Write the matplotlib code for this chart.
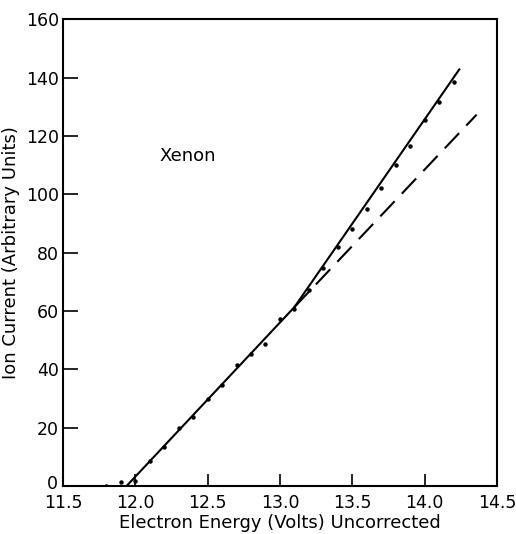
import matplotlib
matplotlib.use("Agg")
import matplotlib.pyplot as plt
import matplotlib.transforms as mtransforms

# data points (electron energy, ion current)
energy = [11.8, 11.9, 12.0, 12.1, 12.2, 12.3, 12.4, 12.5, 12.6, 12.7, 12.8, 12.9,
          13.0, 13.1, 13.2, 13.3, 13.4, 13.5, 13.6, 13.7, 13.8, 13.9, 14.0, 14.1, 14.2]
current = [0.0, 1.2, 1.8, 8.7, 13.5, 19.7, 23.7, 29.7, 34.6, 41.4, 45.2, 48.8,
           57.2, 60.8, 67.3, 74.8, 81.9, 88.0, 95.1, 102.3, 109.9, 116.7, 125.3, 131.6, 138.4]

# fitted lines
lower_fit_x = [11.94, 13.10]
lower_fit_y = [0.0, 61.3]
dashed_x = [13.10, 14.36]
dashed_y = [61.3, 127.3]
upper_fit_x = [13.10, 14.24]
upper_fit_y = [61.3, 142.8]

xticks = [11.5, 12.0, 12.5, 13.0, 13.5, 14.0, 14.5]
xticklabels = ["11.5", "12.0", "12.5", "13.0", "13.5", "14.0", "14.5"]
yticks = [0, 20, 40, 60, 80, 100, 120, 140, 160]

plt.rcParams['font.family'] = ['DejaVu Sans']
fig = plt.figure(figsize=(5.16, 5.34), dpi=100)
ax = fig.add_axes([0.122, 0.090, 0.841, 0.874])

ax.plot(lower_fit_x, lower_fit_y, color='black', lw=1.5)
ax.plot(upper_fit_x, upper_fit_y, color='black', lw=1.5)
ax.plot(dashed_x, dashed_y, color='black', lw=1.5, dashes=(10, 5))
ax.plot(energy, current, linestyle='none', marker='o', markersize=2.2, color='black')

ax.set_xlim(11.5, 14.5)
ax.set_ylim(0, 160)
ax.set_xticks(xticks)
ax.set_xticklabels(xticklabels)
ax.set_yticks(yticks)
ax.tick_params(axis='both', direction='in', labelsize=12.5, width=1.2)
ax.tick_params(axis='x', length=9, pad=6)
ax.tick_params(axis='y', length=11, pad=3)
for s in ax.spines.values():
    s.set_linewidth(1.5)

# nudge the "0" label up slightly so it does not collide with "11.5"
lbl0 = ax.get_yticklabels()[0]
lbl0.set_transform(lbl0.get_transform() + mtransforms.ScaledTranslation(-1/100, 4/100, fig.dpi_scale_trans))

ax.set_xlabel("Electron Energy (Volts) Uncorrected", fontsize=13, labelpad=1)
ax.set_ylabel("Ion Current (Arbitrary Units)", fontsize=13, labelpad=4)
ax.text(12.36, 113, "Xenon", fontsize=13, ha='center', va='center')

fig.savefig("out.png", dpi=100)
